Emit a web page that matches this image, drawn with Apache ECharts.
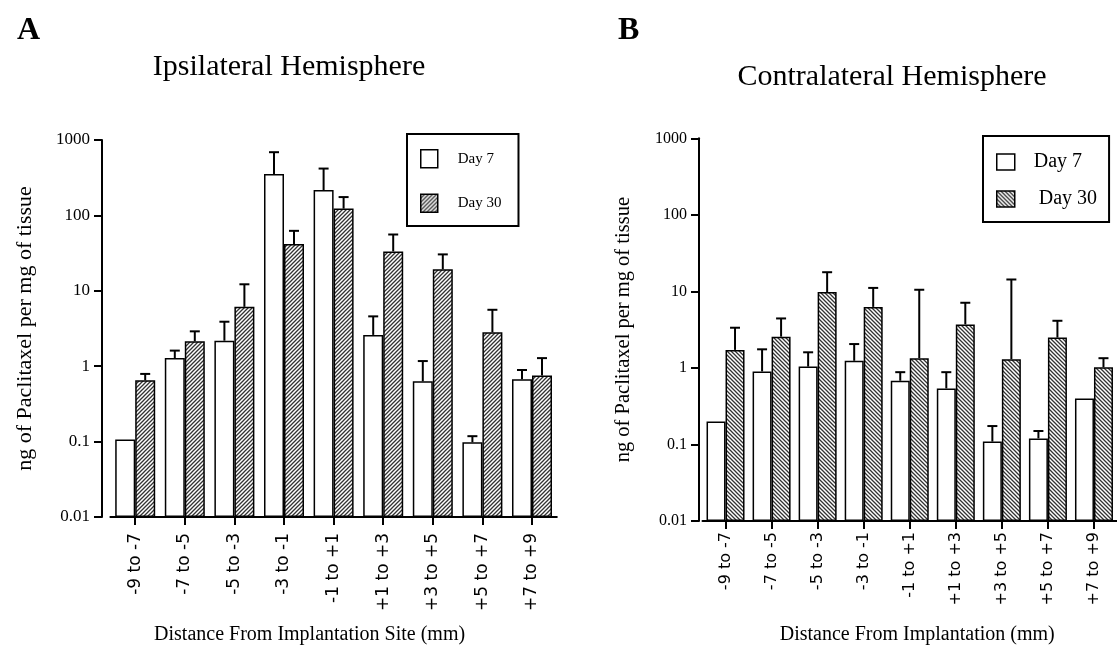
<!DOCTYPE html>
<html>
<head>
<meta charset="utf-8">
<script src="https://cdn.jsdelivr.net/npm/echarts@6/dist/echarts.min.js"></script>
<style>
html,body{margin:0;padding:0;background:#fff;}
#c{width:1117px;height:650px;}
</style>
</head>
<body>
<div id="c"></div>
<script>
// ---- data ----
const categories = ['-9 to -7','-7 to -5','-5 to -3','-3 to -1','-1 to +1','+1 to +3','+3 to +5','+5 to +7','+7 to +9'];

// Panel A: Ipsilateral hemisphere (mean, and top of error bar)
const ipsiDay7      = [0.107, 1.28, 2.18, 353, 217, 2.6, 0.63, 0.098, 0.67];
const ipsiDay7Err   = [null, 1.61, 3.89, 689, 418, 4.58, 1.17, 0.118, 0.89];
const ipsiDay30     = [0.65, 2.14, 6.13, 41.6, 123, 33.3, 19.3, 2.82, 0.75];
const ipsiDay30Err  = [0.79, 2.9, 12.2, 62.4, 175, 55.8, 30.4, 5.6, 1.28];

// Panel B: Contralateral hemisphere
const contraDay7     = [0.20, 0.90, 1.04, 1.24, 0.68, 0.54, 0.109, 0.12, 0.40];
const contraDay7Err  = [null, 1.75, 1.6, 2.05, 0.88, 0.88, 0.174, 0.15, null];
const contraDay30    = [1.72, 2.56, 9.8, 6.27, 1.34, 3.7, 1.3, 2.49, 1.02];
const contraDay30Err = [3.35, 4.43, 17.8, 11.1, 10.5, 7.1, 14.3, 4.13, 1.34];

const yTicks = [0.01, 0.1, 1, 10, 100, 1000];

// ---- styles ----
function hatch(dir){
  const s = 4;
  const cv = document.createElement('canvas');
  cv.width = s; cv.height = s;
  const g = cv.getContext('2d');
  g.fillStyle = '#fff'; g.fillRect(0,0,s,s);
  g.strokeStyle = '#333'; g.lineWidth = 1.3;
  g.beginPath();
  if (dir === '/') {
    g.moveTo(-1, s+1); g.lineTo(s+1, -1);
    g.moveTo(-1, 1); g.lineTo(1, -1);
    g.moveTo(s-1, s+1); g.lineTo(s+1, s-1);
  } else {
    g.moveTo(-1, -1); g.lineTo(s+1, s+1);
    g.moveTo(s-1, -1); g.lineTo(s+1, 1);
    g.moveTo(-1, s-1); g.lineTo(1, s+1);
  }
  g.stroke();
  return {image: cv, repeat: 'repeat'};
}
const SERIF = 'Liberation Serif';
const SANS = 'DejaVu Sans';

function errData(err, mean){
  return err.map((e, i) => [i, mean[i], e == null ? NaN : e]);
}
function errRender(offset){
  return function(params, api){
    const i = api.value(0), top = api.value(1), hi = api.value(2);
    if (hi == null || isNaN(hi)) return;
    const p0 = api.coord([i, top]);
    const p1 = api.coord([i, hi]);
    const x = p0[0] + offset;
    return {type:'group', children:[
      {type:'line', shape:{x1:x, y1:p0[1], x2:x, y2:p1[1]}, style:{stroke:'#000', lineWidth:2}},
      {type:'line', shape:{x1:x-5, y1:p1[1], x2:x+5, y2:p1[1]}, style:{stroke:'#000', lineWidth:2}}
    ]};
  };
}

function yAxisCfg(gridIndex, offset, labelSize, nameGap, nameSize){
  return {
    type:'log', logBase:10, gridIndex, min:0.01, max:1000, startValue:0.01, offset,
    name:'ng of Paclitaxel per mg of tissue', nameLocation:'middle', nameGap,
    nameTextStyle:{fontFamily:SERIF, fontSize:nameSize, color:'#000'},
    axisLine:{show:true, lineStyle:{color:'#000', width:2}},
    axisTick:{show:true, length:8, lineStyle:{color:'#000', width:2}},
    splitLine:{show:false},
    axisLabel:{fontFamily:SERIF, fontSize:labelSize, color:'#000', margin:12,
      formatter: v => { const t = yTicks.find(k => Math.abs(Math.log10(k) - Math.log10(v)) < 1e-6); return t != null ? String(t) : ''; }}
  };
}
function xAxisCfg(gridIndex, name, labelSize, margin, nameGap, namePad){
  return {
    type:'category', gridIndex, data:categories,
    name, nameLocation:'middle', nameGap,
    nameTextStyle:{fontFamily:SERIF, fontSize:20, color:'#000', padding:namePad},
    axisLine:{show:true, lineStyle:{color:'#000', width:2}},
    axisTick:{show:true, alignWithLabel:true, length:8, lineStyle:{color:'#000', width:2}},
    axisLabel:{rotate:90, fontFamily:SANS, fontSize:labelSize, color:'#000', margin, interval:0}
  };
}

const hatchA = hatch('/');
const hatchB = hatch('\\');
const barBorder = {borderColor:'#000', borderWidth:1.5};

const chart = echarts.init(document.getElementById('c'));
chart.setOption({
  backgroundColor:'#fff',
  animation:false,
  title:[
    {text:'A', left:12, top:10, textStyle:{fontFamily:SERIF, fontSize:32, fontWeight:'bold', color:'#000'}},
    {text:'B', left:613, top:10, textStyle:{fontFamily:SERIF, fontSize:32, fontWeight:'bold', color:'#000'}},
    {text:'Ipsilateral Hemisphere', left:284, top:47, textAlign:'center', textStyle:{fontFamily:SERIF, fontSize:30, fontWeight:'normal', color:'#000'}},
    {text:'Contralateral Hemisphere', left:887, top:57, textAlign:'center', textStyle:{fontFamily:SERIF, fontSize:30, fontWeight:'normal', color:'#000'}}
  ],
  legend:[
    {data:['Day 7','Day 30'], orient:'vertical', left:407, top:134, icon:'rect', itemWidth:17, itemHeight:18, itemGap:25,
     padding:[15,17,13,13], borderColor:'#000', borderWidth:2, backgroundColor:'#fff',
     itemStyle:{borderColor:'#000', borderWidth:1.5},
     textStyle:{fontFamily:SERIF, fontSize:15, color:'#000', padding:[0,0,0,15]}},
    {data:['Day 7 ',' Day 30'], orient:'vertical', left:983, top:136, icon:'rect', itemWidth:18, itemHeight:16, itemGap:17,
     padding:[16,12,13,13], borderColor:'#000', borderWidth:2, backgroundColor:'#fff',
     itemStyle:{borderColor:'#000', borderWidth:1.5},
     textStyle:{fontFamily:SERIF, fontSize:20, color:'#000', padding:[0,0,0,14]}}
  ],
  grid:[
    {left:110.4, top:140, width:446.4, height:379.5},
    {left:702.5, top:138.3, width:424, height:385.7}
  ],
  xAxis:[
    xAxisCfg(0, 'Distance From Implantation Site (mm)', 17, 16, 108, [0,48,0,0]),
    xAxisCfg(1, 'Distance From Implantation (mm)', 16, 11, 104, [0,0,0,15])
  ],
  yAxis:[
    yAxisCfg(0, 8.4, 17, 66, 22),
    yAxisCfg(1, 3.5, 16, 65, 20.5)
  ],
  series:[
    {name:'Day 7', type:'bar', xAxisIndex:0, yAxisIndex:0, data:ipsiDay7, barWidth:20, barGap:'0%',
     itemStyle:Object.assign({color:'#fff'}, barBorder)},
    {name:'Day 30', type:'bar', xAxisIndex:0, yAxisIndex:0, data:ipsiDay30, barWidth:20, barGap:'0%',
     itemStyle:Object.assign({color:hatchA}, barBorder)},
    {type:'custom', xAxisIndex:0, yAxisIndex:0, renderItem:errRender(-10), data:errData(ipsiDay7Err, ipsiDay7), encode:{x:0, y:[1,2]}, z:3},
    {type:'custom', xAxisIndex:0, yAxisIndex:0, renderItem:errRender(10), data:errData(ipsiDay30Err, ipsiDay30), encode:{x:0, y:[1,2]}, z:3},

    {name:'Day 7 ', type:'bar', xAxisIndex:1, yAxisIndex:1, data:contraDay7, barWidth:19, barGap:'0%',
     itemStyle:Object.assign({color:'#fff'}, barBorder)},
    {name:' Day 30', type:'bar', xAxisIndex:1, yAxisIndex:1, data:contraDay30, barWidth:19, barGap:'0%',
     itemStyle:Object.assign({color:hatchB}, barBorder)},
    {type:'custom', xAxisIndex:1, yAxisIndex:1, renderItem:errRender(-9.5), data:errData(contraDay7Err, contraDay7), encode:{x:0, y:[1,2]}, z:3},
    {type:'custom', xAxisIndex:1, yAxisIndex:1, renderItem:errRender(9.5), data:errData(contraDay30Err, contraDay30), encode:{x:0, y:[1,2]}, z:3}
  ]
});
</script>
</body>
</html>
